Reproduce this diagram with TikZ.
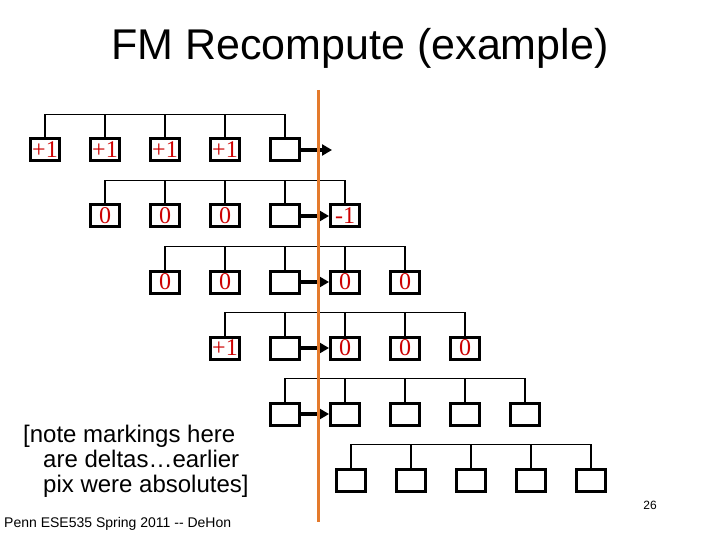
\documentclass[tikz,border=0pt]{standalone}
\usepackage{fontspec}
\setmainfont{Liberation Sans}
\newfontfamily\markfont{Liberation Serif}
\usetikzlibrary{arrows.meta, positioning}
\definecolor{markred}{RGB}{204,0,0}
\definecolor{cutline}{RGB}{228,122,44}
\tikzset{
    cell/.style={rectangle, draw=black, line width=3pt, minimum width=29pt, minimum height=22pt, inner sep=0pt, text=markred, font=\markfont\fontsize{24}{24}\selectfont},
    stub/.style={line width=2.5pt},
    bus/.style={line width=1.5pt},
    arrow/.style={line width=4pt, -{Triangle[length=10pt,width=11pt]}},
    cut/.style={line width=3pt, draw=cutline}
}

\begin{document}
\begin{tikzpicture}[x=1pt, y=-1pt, node distance=28pt]
    \useasboundingbox (0,0) rectangle (720,540);

    \node (title) [anchor=base, font=\fontsize{43}{43}\selectfont] at (360,60) {FM Recompute (example)};

    % row 1
    \node (r1a) [cell] at (45,150) {+1};
    \node (r1b) [cell, right=of r1a] {+1};
    \node (r1c) [cell, right=of r1b] {+1};
    \node (r1d) [cell, right=of r1c] {+1};
    \node (r1e) [cell, right=of r1d] {};
    \coordinate (r1out) at (332,150);

    % row 2
    \node (r2a) [cell] at (105,216) {0};
    \node (r2b) [cell, right=of r2a] {0};
    \node (r2c) [cell, right=of r2b] {0};
    \node (r2d) [cell, right=of r2c] {};
    \node (r2e) [cell, right=of r2d] {-1};

    % row 3
    \node (r3a) [cell] at (165,282) {0};
    \node (r3b) [cell, right=of r3a] {0};
    \node (r3c) [cell, right=of r3b] {};
    \node (r3d) [cell, right=of r3c] {0};
    \node (r3e) [cell, right=of r3d] {0};

    % row 4
    \node (r4a) [cell] at (225,348) {+1};
    \node (r4b) [cell, right=of r4a] {};
    \node (r4c) [cell, right=of r4b] {0};
    \node (r4d) [cell, right=of r4c] {0};
    \node (r4e) [cell, right=of r4d] {0};

    % row 5
    \node (r5a) [cell] at (285,414) {};
    \node (r5b) [cell, right=of r5a] {};
    \node (r5c) [cell, right=of r5b] {};
    \node (r5d) [cell, right=of r5c] {};
    \node (r5e) [cell, right=of r5d] {};

    % row 6
    \node (r6a) [cell] at (351,480) {};
    \node (r6b) [cell, right=of r6a] {};
    \node (r6c) [cell, right=of r6b] {};
    \node (r6d) [cell, right=of r6c] {};
    \node (r6e) [cell, right=of r6d] {};

    % nets
    \foreach \r in {r1,r2,r3,r4,r5,r6} {
        \foreach \c in {a,b,c,d,e}
            \draw [stub] (\r\c.north) -- ++(0,-23.75);
        \draw [bus] ([yshift=23pt]\r a.north) -- ([yshift=23pt]\r e.north);
    }

    \draw [arrow] (r1e) -- (r1out);
    \draw [arrow] (r2d) -- (r2e);
    \draw [arrow] (r3c) -- (r3d);
    \draw [arrow] (r4b) -- (r4c);
    \draw [arrow] (r5a) -- (r5b);

    % cut line
    \coordinate (cuttop) at (318,90);
    \coordinate (cutbot) at (318,522);
    \draw [cut] (cuttop) -- (cutbot);

    \node (note) [anchor=north west, align=left, inner sep=0pt, font=\fontsize{24}{25}\selectfont] at (23,425)
        {[note markings here\\\hspace*{20pt}are deltas…earlier\\\hspace*{20pt}pix were absolutes]};
    \node (footer) [anchor=base west, inner sep=0pt, font=\fontsize{14}{14}\selectfont] at (4,527) {Penn ESE535 Spring 2011 -{}- DeHon};
    \node (page) [font=\fontsize{12}{12}\selectfont] at (650,505) {26};
\end{tikzpicture}
\end{document}
